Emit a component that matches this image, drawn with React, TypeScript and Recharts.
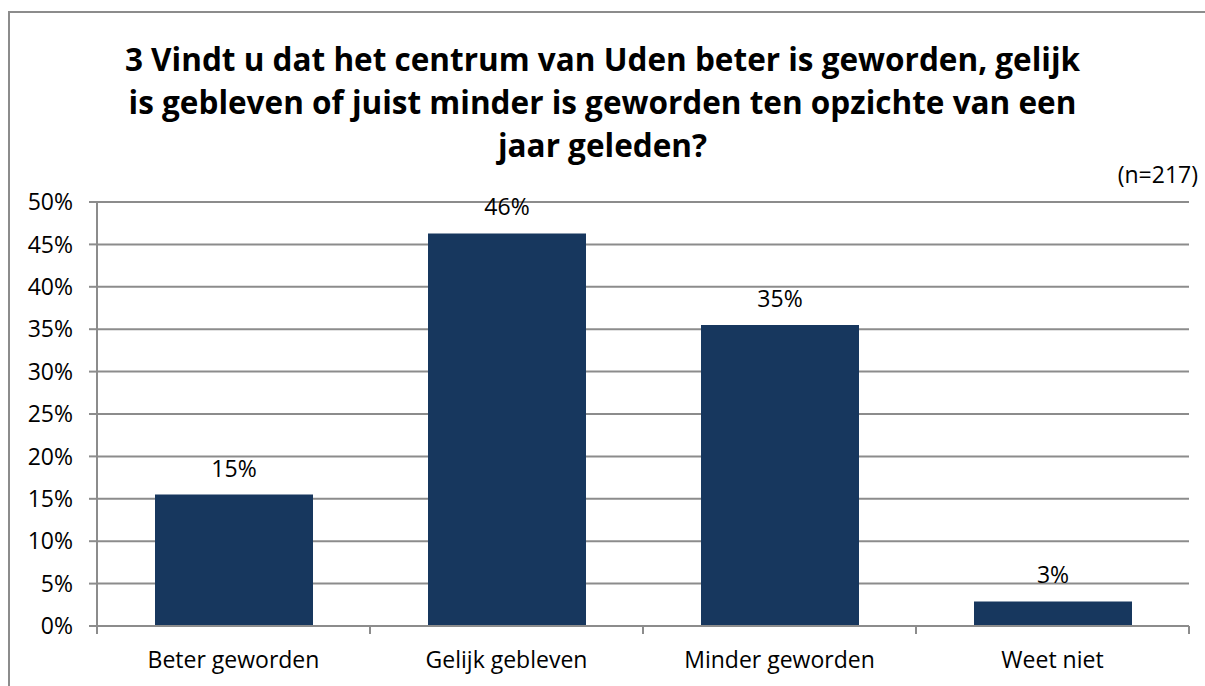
import { Bar, BarChart, CartesianGrid, LabelList, XAxis, YAxis } from "recharts";

const categories = ["Beter geworden", "Gelijk gebleven", "Minder geworden", "Weet niet"];
const shares = [15.5, 46.3, 35.5, 2.9];
const shareLabels = ["15%", "46%", "35%", "3%"];
const yTicks = [0, 5, 10, 15, 20, 25, 30, 35, 40, 45, 50];
const titleLines = [
  "3 Vindt u dat het centrum van Uden beter is geworden, gelijk",
  "is gebleven of juist minder is geworden ten opzichte van een",
  "jaar geleden?",
];
const sampleNote = "(n=217)";

const font = "'Open Sans', sans-serif";
const axisGray = "#8c8c8c";
const barColor = "#17375E";

const data = categories.map((name, i) => ({ name, share: shares[i], label: shareLabels[i] }));

// category ticks sit on the band edges, labels in the middle
function CategoryTick(props: any) {
  const { x, y, payload, index } = props;
  const half = payload?.offset || 136.5;
  return (
    <g>
      <line x1={x - half} x2={x - half} y1={y - 8} y2={y} stroke={axisGray} strokeWidth={2} />
      {index === categories.length - 1 && (
        <line x1={x + half} x2={x + half} y1={y - 8} y2={y} stroke={axisGray} strokeWidth={2} />
      )}
      <text x={x} y={y + 34} textAnchor="middle" fill="#000" fontSize={23} fontFamily={font}>
        {payload.value}
      </text>
    </g>
  );
}

export default function App() {
  return (
    <div
      style={{
        position: "absolute",
        left: 0,
        top: 0,
        width: 1205,
        height: 686,
        overflow: "hidden",
        background: "#fff",
        fontFamily: font,
      }}
    >
      <div
        style={{
          position: "absolute",
          left: 8,
          top: 11,
          width: 1300,
          height: 800,
          border: `2px solid ${axisGray}`,
        }}
      />
      <div
        style={{
          position: "absolute",
          left: 0,
          top: 37,
          width: 1205,
          textAlign: "center",
          fontWeight: 700,
          fontSize: 31.5,
          lineHeight: "43px",
          color: "#000",
        }}
      >
        {titleLines.map((t) => (
          <div key={t}>{t}</div>
        ))}
      </div>
      <div
        style={{
          position: "absolute",
          right: 7,
          top: 159,
          fontSize: 23,
          lineHeight: "30px",
          color: "#000",
        }}
      >
        {sampleNote}
      </div>
      <div style={{ position: "absolute", left: 0, top: 0 }}>
        <BarChart
          width={1205}
          height={686}
          data={data}
          margin={{ top: 202, right: 16, bottom: 0, left: 27 }}
        >
          <CartesianGrid stroke={axisGray} strokeWidth={2} vertical={false} />
          <YAxis
            width={70}
            domain={[0, 50]}
            ticks={yTicks}
            tickFormatter={(v: number) => `${v}%`}
            tick={{ fill: "#000", fontSize: 23, fontFamily: font }}
            stroke={axisGray}
            strokeWidth={2}
            tickSize={8}
            tickMargin={16}
            interval={0}
          />
          <XAxis
            dataKey="name"
            height={60}
            stroke={axisGray}
            strokeWidth={2}
            tickLine={false}
            tick={<CategoryTick />}
            interval={0}
          />
          <Bar dataKey="share" fill={barColor} barSize={158} isAnimationActive={false}>
            <LabelList
              dataKey="label"
              position="top"
              offset={18}
              fill="#000"
              fontSize={23}
              fontFamily={font}
            />
          </Bar>
        </BarChart>
      </div>
    </div>
  );
}
